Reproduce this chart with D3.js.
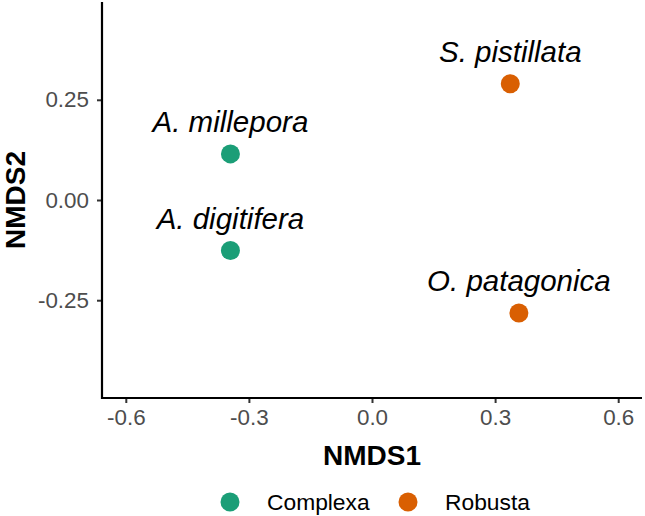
<!DOCTYPE html>
<html>
<head>
<meta charset="utf-8">
<script src="https://cdn.jsdelivr.net/npm/d3@7"></script>
<style>
  html, body { margin: 0; padding: 0; background: #fff; }
  svg { display: block; font-family: "Liberation Sans", Arial, sans-serif; }
</style>
</head>
<body>
<svg id="chart" width="645" height="516"></svg>
<script>
// ---- data ----
const species = ["A. millepora", "A. digitifera", "S. pistillata", "O. patagonica"];
const groups  = ["Complexa", "Complexa", "Robusta", "Robusta"];
const nmds1   = [-0.345, -0.345, 0.337, 0.358];
const nmds2   = [0.115, -0.126, 0.290, -0.282];
const xTicks  = [-0.6, -0.3, 0.0, 0.3, 0.6];
const yTicks  = [-0.25, 0.00, 0.25];
const groupNames = ["Complexa", "Robusta"];
const groupColors = ["#1B9E77", "#D95F02"];

const svg = d3.select("#chart");
const pLeft = 102, pRight = 642, pTop = 2, pBottom = 398;

const x = d3.scaleLinear().domain([-0.658, 0.658]).range([pLeft, pRight]);
const y = d3.scaleLinear().domain([-0.494, 0.494]).range([pBottom, pTop]);
const color = d3.scaleOrdinal().domain(groupNames).range(groupColors);

const fmt = p => v => d3.format(p)(v).replace("\u2212", "-");

// axes
const xAxis = d3.axisBottom(x).tickValues(xTicks).tickFormat(fmt(".1f")).tickSize(5).tickPadding(6);
const yAxis = d3.axisLeft(y).tickValues(yTicks).tickFormat(fmt(".2f")).tickSize(5).tickPadding(8);

const gx = svg.append("g").attr("transform", `translate(0,${pBottom})`).call(xAxis);
const gy = svg.append("g").attr("transform", `translate(${pLeft},0)`).call(yAxis);

[gx, gy].forEach(g => {
  g.select(".domain").remove();
  g.selectAll(".tick line").attr("stroke", "#333").attr("stroke-width", 2);
  g.selectAll(".tick text").attr("fill", "#4D4D4D").style("font-size", "22.4px")
    .style("font-family", "'Liberation Sans', Arial, sans-serif");
});
svg.append("line").attr("x1", pLeft).attr("x2", pRight).attr("y1", pBottom).attr("y2", pBottom)
  .attr("stroke", "#000").attr("stroke-width", 2.2);
svg.append("line").attr("x1", pLeft).attr("x2", pLeft).attr("y1", pTop).attr("y2", pBottom + 1.1)
  .attr("stroke", "#000").attr("stroke-width", 2.2);

// axis titles
svg.append("text").attr("x", (pLeft + pRight) / 2).attr("y", 465)
  .attr("text-anchor", "middle").style("font-size", "28px").style("font-weight", "bold")
  .attr("fill", "#000").text("NMDS1");
svg.append("text").attr("transform", `translate(24.5,${(pTop + pBottom) / 2}) rotate(-90)`)
  .attr("text-anchor", "middle").style("font-size", "28px").style("font-weight", "bold")
  .attr("fill", "#000").text("NMDS2");

// points
const data = species.map((s, i) => ({ s, g: groups[i], x: nmds1[i], y: nmds2[i] }));
svg.append("g").selectAll("circle").data(data).join("circle")
  .attr("cx", d => x(d.x)).attr("cy", d => y(d.y)).attr("r", 9.5)
  .attr("fill", d => color(d.g));

svg.append("g").selectAll("text").data(data).join("text")
  .attr("x", d => x(d.x)).attr("y", d => y(d.y) - 22)
  .attr("text-anchor", "middle").style("font-size", "29.5px").style("font-style", "italic")
  .attr("fill", "#000").text(d => d.s);

// legend
const legendY = 502;
const legendX = [230, 408];
const lg = svg.append("g");
groupNames.forEach((g, i) => {
  lg.append("circle").attr("cx", legendX[i]).attr("cy", legendY).attr("r", 9.5).attr("fill", color(g));
  lg.append("text").attr("x", legendX[i] + 37).attr("y", legendY).attr("dy", "0.35em")
    .style("font-size", "22.8px").attr("fill", "#000").text(g);
});
</script>
</body>
</html>
